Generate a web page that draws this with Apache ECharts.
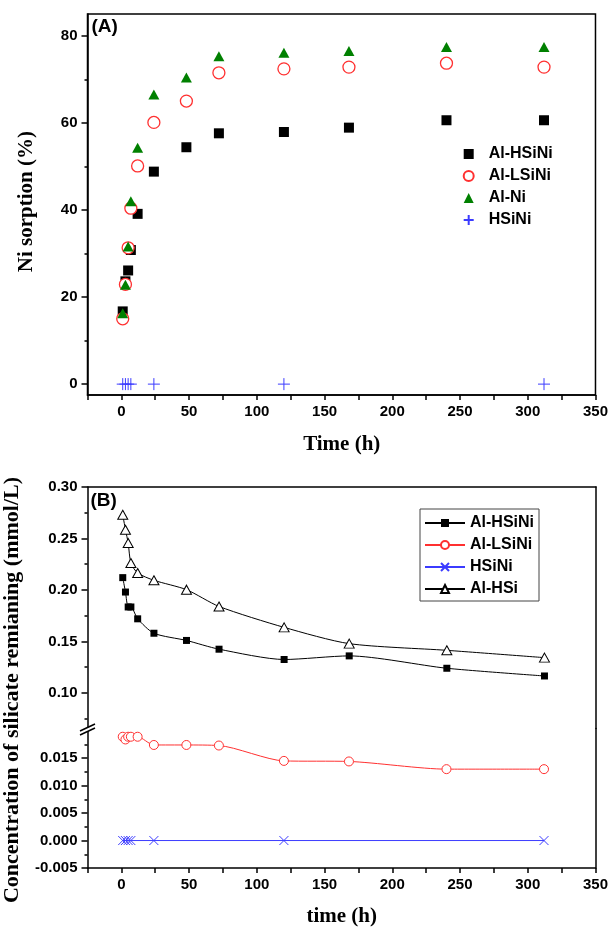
<!DOCTYPE html>
<html>
<head>
<meta charset="utf-8">
<script src="https://cdn.jsdelivr.net/npm/echarts@6.0.0/dist/echarts.min.js"></script>
<style>
  html, body { margin: 0; padding: 0; background: #fff; }
  #a { position: absolute; left: 0; top: 0; width: 611px; height: 465px; }
  #b { position: absolute; left: 0; top: 465px; width: 611px; height: 462px; }
</style>
</head>
<body>
<div id="a"></div>
<div id="b"></div>
<script>
// ---------- data ----------
const timeH = [1, 3, 5, 7, 12, 24, 48, 72, 120, 168, 240, 312];
const timeHSiNi = [1, 3, 5, 7, 24, 120, 312];

// Panel A: Ni sorption (%)
const sorptionAlHSiNi = [16.7, 23.6, 26.1, 30.8, 39.1, 48.8, 54.4, 57.6, 57.9, 58.9, 60.6, 60.6];
const sorptionAlLSiNi = [15.0, 22.9, 31.3, 40.4, 50.1, 60.1, 65.0, 71.5, 72.4, 72.8, 73.7, 72.8];
const sorptionAlNi    = [16.3, 22.8, 31.6, 42.0, 54.3, 66.5, 70.4, 75.3, 76.1, 76.5, 77.4, 77.4];
const sorptionHSiNi   = [0, 0, 0, 0, 0, 0, 0];

// Panel B: silicate remaining (mmol/L)
const silicateAlHSiNi = [0.212, 0.198, 0.1835, 0.1835, 0.172, 0.158, 0.151, 0.1425, 0.1325, 0.136, 0.124, 0.1165];
const silicateAlLSiNi = [0.0189, 0.0184, 0.0189, 0.0189, 0.0189, 0.0174, 0.0174, 0.0173, 0.0145, 0.0144, 0.0130, 0.0130];
const silicateHSiNi   = [0, 0, 0, 0, 0, 0, 0];
const silicateAlHSi   = [0.273, 0.2585, 0.2456, 0.2262, 0.2165, 0.2094, 0.2003, 0.184, 0.1637, 0.1479, 0.1414, 0.1343];

// tick labels / tick positions
const xTickLabels = [0, 50, 100, 150, 200, 250, 300, 350];
const xTicks = [-25, 0, 25, 50, 75, 100, 125, 150, 175, 200, 225, 250, 275, 300, 325, 350];
const yTicksA = [0, 20, 40, 60, 80];
const yMinorA = [10, 30, 50, 70];
const yTicksBUpper = [0.10, 0.15, 0.20, 0.25, 0.30];
const yMinorBUpper = [0.075, 0.125, 0.175, 0.225, 0.275];
const yTicksBLower = [-0.005, 0, 0.005, 0.010, 0.015];
const yMinorBLower = [-0.0025, 0.0025, 0.0075, 0.0125, 0.0175];

const zip = (xs, ys) => xs.map((x, i) => [x, ys[i]]);

// ---------- styles ----------
const SANS = 'Liberation Sans, Arial, sans-serif';
const SERIF = 'Liberation Serif, Times New Roman, serif';
const lineBlack = { color: '#000', width: 1.5 };
const tickLabel = { fontFamily: SANS, fontWeight: 'bold', fontSize: 15, color: '#000' };
const RED = '#ff3030', BLUE = '#3b3bff', GREEN = '#008000';

function xAxisMain(gridIndex) {
  return {
    type: 'value', gridIndex, min: -25, max: 350, position: 'bottom',
    axisLine: { show: true, onZero: false, lineStyle: lineBlack },
    axisTick: { show: true, customValues: xTicks, length: 5, lineStyle: lineBlack },
    axisLabel: Object.assign({ customValues: xTickLabels, margin: 9 }, tickLabel),
    splitLine: { show: false }
  };
}
function yMain(gridIndex, min, max, labels, fmt) {
  return {
    type: 'value', gridIndex, min, max, position: 'left',
    axisLine: { show: true, onZero: false, lineStyle: lineBlack },
    axisTick: { show: true, customValues: labels, length: 6, lineStyle: lineBlack },
    axisLabel: Object.assign({ customValues: labels, margin: 10, formatter: fmt }, tickLabel),
    splitLine: { show: false }
  };
}
function yMinor(gridIndex, min, max, vals) {
  return {
    type: 'value', gridIndex, min, max, position: 'left',
    axisLine: { show: false, onZero: false },
    axisTick: { show: true, customValues: vals, length: 3, lineStyle: lineBlack },
    axisLabel: { show: false },
    splitLine: { show: false }
  };
}
function frameAxis(gridIndex, min, max, position) {
  return {
    type: 'value', gridIndex, min, max, position,
    axisLine: { show: true, onZero: false, lineStyle: lineBlack }, axisTick: { show: false },
    axisLabel: { show: false }, splitLine: { show: false }
  };
}

// ---------- Panel A ----------
const chartA = echarts.init(document.getElementById('a'));
chartA.setOption({
  animation: false,
  grid: { left: 87.5, top: 14, width: 508.5, height: 381, show: true, borderColor: '#000', borderWidth: 1.5 },
  xAxis: [xAxisMain(0)],
  yAxis: [
    yMain(0, -2.5, 85, yTicksA, v => String(v)),
    yMinor(0, -2.5, 85, yMinorA)
  ],
  legend: {
    orient: 'vertical', left: 462.7, top: 146, padding: 0,
    itemWidth: 10, itemHeight: 10, itemGap: 6,
    textStyle: { fontFamily: SANS, fontWeight: 'bold', fontSize: 16, color: '#000', padding: [0, 0, 0, 10] },
    data: ['Al-HSiNi', 'Al-LSiNi', 'Al-Ni', 'HSiNi']
  },
  series: [
    { type: 'scatter', name: 'Al-HSiNi', data: zip(timeH, sorptionAlHSiNi),
      symbol: 'rect', symbolSize: 10, itemStyle: { color: '#000', opacity: 1 } },
    { type: 'scatter', name: 'Al-LSiNi', data: zip(timeH, sorptionAlLSiNi),
      symbol: 'circle', symbolSize: 12, itemStyle: { color: '#fff', borderColor: RED, borderWidth: 1.3, opacity: 1 } },
    { type: 'scatter', name: 'Al-Ni', data: zip(timeH, sorptionAlNi),
      symbol: 'triangle', symbolSize: [11, 10], itemStyle: { color: GREEN, opacity: 1 } },
    { type: 'scatter', name: 'HSiNi', data: zip(timeHSiNi, sorptionHSiNi),
      symbol: 'path://M5,0L5,10M0,5L10,5', symbolSize: 12,
      itemStyle: { color: 'transparent', borderColor: BLUE, borderWidth: 1, opacity: 1 } }
  ],
  graphic: [
    { type: 'text', left: 91.5, top: 17, style: { text: '(A)', font: 'bold 19px ' + SANS, fill: '#000' } },
    { type: 'text', x: 27, y: 201.7, rotation: Math.PI / 2,
      style: { text: 'Ni sorption (%)', font: 'bold 21px ' + SERIF, fill: '#000', align: 'center', verticalAlign: 'middle' } },
    { type: 'text', x: 341.75, y: 445,
      style: { text: 'Time (h)', font: 'bold 21px ' + SERIF, fill: '#000', align: 'center', verticalAlign: 'middle' } }
  ]
});

// ---------- Panel B ----------
const upMin = 0.0655, upMax = 0.30;
const loMin = -0.005, loMax = 0.0204;
const chartB = echarts.init(document.getElementById('b'));
chartB.setOption({
  animation: false,
  grid: [
    { left: 87.5, top: 22, width: 508.5, height: 241.5 },
    { left: 87.5, top: 263.5, width: 508.5, height: 139.5 }
  ],
  xAxis: [
    frameAxis(0, -25, 350, 'top'),
    xAxisMain(1)
  ],
  yAxis: [
    yMain(0, upMin, upMax, yTicksBUpper, v => v.toFixed(2)),
    yMinor(0, upMin, upMax, yMinorBUpper),
    frameAxis(0, upMin, upMax, 'right'),
    yMain(1, loMin, loMax, yTicksBLower, v => v.toFixed(3)),
    yMinor(1, loMin, loMax, yMinorBLower),
    frameAxis(1, loMin, loMax, 'right')
  ],
  legend: {
    orient: 'vertical', left: 420, top: 44, padding: [6, 5, 4, 4],
    borderColor: '#444', borderWidth: 1,
    itemWidth: 40, itemHeight: 10, itemGap: 6,
    textStyle: { fontFamily: SANS, fontWeight: 'bold', fontSize: 16, color: '#000' },
    data: ['Al-HSiNi', 'Al-LSiNi', 'HSiNi', 'Al-HSi']
  },
  series: [
    { type: 'line', name: 'Al-HSiNi', xAxisIndex: 0, yAxisIndex: 0, data: zip(timeH, silicateAlHSiNi),
      smooth: 0.25, showAllSymbol: true, symbol: 'rect', symbolSize: 7,
      lineStyle: { color: '#000', width: 1 }, itemStyle: { color: '#000' } },
    { type: 'line', name: 'Al-LSiNi', xAxisIndex: 1, yAxisIndex: 3, data: zip(timeH, silicateAlLSiNi),
      smooth: 0.25, showAllSymbol: true, symbol: 'circle', symbolSize: 9,
      lineStyle: { color: RED, width: 1 }, itemStyle: { color: '#fff', borderColor: RED, borderWidth: 1 } },
    { type: 'line', name: 'HSiNi', xAxisIndex: 1, yAxisIndex: 3, data: zip(timeHSiNi, silicateHSiNi),
      showAllSymbol: true, symbol: 'path://M0,0L10,10M10,0L0,10', symbolSize: 9,
      lineStyle: { color: BLUE, width: 1 }, itemStyle: { color: 'transparent', borderColor: BLUE, borderWidth: 1 } },
    { type: 'line', name: 'Al-HSi', xAxisIndex: 0, yAxisIndex: 0, data: zip(timeH, silicateAlHSi),
      smooth: 0.25, showAllSymbol: true, symbol: 'triangle', symbolSize: [10, 9],
      lineStyle: { color: '#000', width: 1 }, itemStyle: { color: '#fff', borderColor: '#000', borderWidth: 1 } }
  ],
  graphic: [
    { type: 'text', left: 90.5, top: 26, style: { text: '(B)', font: 'bold 19px ' + SANS, fill: '#000' } },
    { type: 'text', x: 12, y: 225, rotation: Math.PI / 2,
      style: { text: 'Concentration of silicate remianing (mmol/L)', font: 'bold 22px ' + SERIF, fill: '#000', align: 'center', verticalAlign: 'middle' } },
    { type: 'text', x: 341.75, y: 452,
      style: { text: 'time (h)', font: 'bold 21px ' + SERIF, fill: '#000', align: 'center', verticalAlign: 'middle' } },
    { type: 'polygon', z: 100, shape: { points: [[80, 266], [95, 259], [95, 263], [80, 270]] }, style: { fill: '#fff' } },
    { type: 'line', z: 101, shape: { x1: 80, y1: 266, x2: 95, y2: 259 }, style: { stroke: '#000', lineWidth: 1.5 } },
    { type: 'line', z: 101, shape: { x1: 80, y1: 270, x2: 95, y2: 263 }, style: { stroke: '#000', lineWidth: 1.5 } }
  ]
});
</script>
</body>
</html>
